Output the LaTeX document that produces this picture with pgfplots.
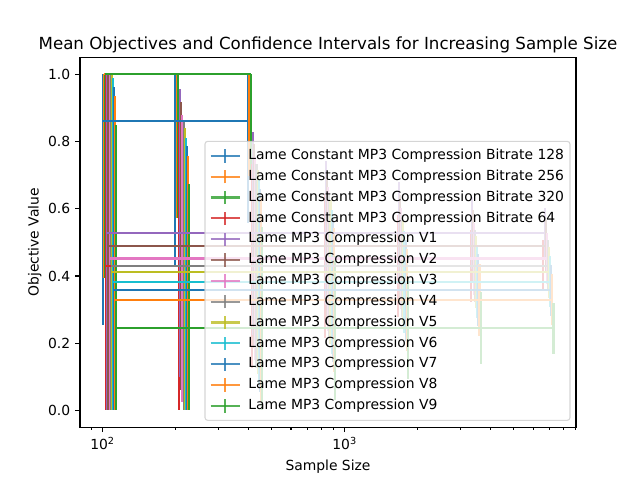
\documentclass[border=0pt]{standalone}
\usepackage{pgfplots}
\pgfplotsset{compat=1.18}
\usepackage{pgfplotstable}
\usepackage{fontspec}
\setmainfont{DejaVu Sans}
\definecolor{C0}{HTML}{1F77B4}
\definecolor{C1}{HTML}{FF7F0E}
\definecolor{C2}{HTML}{2CA02C}
\definecolor{C3}{HTML}{D62728}
\definecolor{C4}{HTML}{9467BD}
\definecolor{C5}{HTML}{8C564B}
\definecolor{C6}{HTML}{E377C2}
\definecolor{C7}{HTML}{7F7F7F}
\definecolor{C8}{HTML}{BCBD22}
\definecolor{C9}{HTML}{17BECF}

\pgfplotstableread{
x y ep em
100 0.86 0.14 0.606
200 0.86 0.14 0.4285
400 0.86 0.14 0.303
}\sA
\pgfplotstableread{
x y ep em
101.15 1.0 0 0.606
202.3 1.0 0 0.4285
404.6 1.0 0 0.303
}\sB
\pgfplotstableread{
x y ep em
102.3 1.0 0 0.606
204.6 1.0 0 0.4285
409.2 1.0 0 0.303
}\sC
\pgfplotstableread{
x y ep em
103.45 0.43 0.57 0.43
206.9 0.43 0.4285 0.4285
413.8 0.43 0.303 0.303
827.6 0.43 0.2143 0.2143
1655.2 0.43 0.1515 0.1515
3310.4 0.43 0.1071 0.1071
6620.8 0.43 0.0758 0.0758
}\sD
\pgfplotstableread{
x y ep em
104.6 0.527 0.473 0.527
209.2 0.527 0.4285 0.4285
418.4 0.527 0.303 0.303
836.8 0.527 0.2143 0.2143
1673.6 0.527 0.1515 0.1515
3347.2 0.527 0.1071 0.1071
6694.4 0.527 0.0758 0.0758
}\sE
\pgfplotstableread{
x y ep em
105.75 0.49 0.51 0.49
211.5 0.49 0.4285 0.4285
423 0.49 0.303 0.303
846 0.49 0.2143 0.2143
1692 0.49 0.1515 0.1515
3384 0.49 0.1071 0.1071
6768 0.49 0.0758 0.0758
}\sF
\pgfplotstableread{
x y ep em
106.9 0.452 0.548 0.452
213.8 0.452 0.4285 0.4285
427.6 0.452 0.303 0.303
855.2 0.452 0.2143 0.2143
1710.4 0.452 0.1515 0.1515
3420.8 0.452 0.1071 0.1071
6841.6 0.452 0.0758 0.0758
}\sG
\pgfplotstableread{
x y ep em
108.05 0.43 0.57 0.43
216.1 0.43 0.4285 0.4285
432.2 0.43 0.303 0.303
864.4 0.43 0.2143 0.2143
1728.8 0.43 0.1515 0.1515
3457.6 0.43 0.1071 0.1071
6915.2 0.43 0.0758 0.0758
}\sH
\pgfplotstableread{
x y ep em
109.2 0.411 0.589 0.411
218.4 0.411 0.4285 0.411
436.8 0.411 0.303 0.303
873.6 0.411 0.2143 0.2143
1747.2 0.411 0.1515 0.1515
3494.4 0.411 0.1071 0.1071
6988.8 0.411 0.0758 0.0758
}\sI
\pgfplotstableread{
x y ep em
110.35 0.383 0.606 0.383
220.7 0.383 0.4285 0.383
441.4 0.383 0.303 0.303
882.8 0.383 0.2143 0.2143
1765.6 0.383 0.1515 0.1515
3531.2 0.383 0.1071 0.1071
7062.4 0.383 0.0758 0.0758
}\sJ
\pgfplotstableread{
x y ep em
111.5 0.357 0.606 0.357
223 0.357 0.4285 0.357
446 0.357 0.303 0.303
892 0.357 0.2143 0.2143
1784 0.357 0.1515 0.1515
3568 0.357 0.1071 0.1071
7136 0.357 0.0758 0.0758
}\sK
\pgfplotstableread{
x y ep em
112.65 0.329 0.606 0.329
225.3 0.329 0.4285 0.329
450.6 0.329 0.303 0.303
901.2 0.329 0.2143 0.2143
1802.4 0.329 0.1515 0.1515
3604.8 0.329 0.1071 0.1071
7209.6 0.329 0.0758 0.0758
}\sL
\pgfplotstableread{
x y ep em
113.8 0.244 0.606 0.244
227.6 0.244 0.4285 0.244
455.2 0.244 0.303 0.244
910.4 0.244 0.2143 0.2143
1820.8 0.244 0.1515 0.1515
3641.6 0.244 0.1071 0.1071
7283.2 0.244 0.0758 0.0758
}\sM

\newcommand{\ebar}[2]{\addplot[draw=none, mark=none, forget plot,
  error bars/.cd, y dir=both, y explicit, error mark=none,
  error bar style={draw=#1, line width=1.5pt, solid}]
  table[x=x,y=y,y error plus=ep,y error minus=em] {#2};}
\newcommand{\lplot}[3]{\addplot[#1, line width=1.5pt, mark=none]
  table[x=x,y=y] {#2}; \addlegendentry{#3}}

\begin{document}
\begin{tikzpicture}
\useasboundingbox (-57.6pt,-38.02pt) rectangle (403.2pt,307.58pt);
\begin{axis}[
  at={(0pt,0pt)}, anchor=south west,
  scale only axis, width=357.12pt, height=266.11pt,
  xmode=log, log basis x=10,
  xmin=80.7, xmax=9024, ymin=-0.05, ymax=1.05,
  xtick={100,1000}, xticklabels={10\textsuperscript{2},10\textsuperscript{3}},
  minor xtick={90,200,300,400,500,600,700,800,900,2000,3000,4000,5000,6000,7000,8000,9000},
  ytick={0,0.2,0.4,0.6,0.8,1.0},
  yticklabels={0.0,0.2,0.4,0.6,0.8,1.0},
  tick align=outside, xtick pos=bottom, ytick pos=left,
  major tick length=3.5pt, minor tick length=2pt,
  every tick/.style={black, line width=0.8pt},
  axis line style={line width=0.8pt},
  tick label style={font=\fontsize{10}{12}\selectfont},
  label style={font=\fontsize{10}{12}\selectfont},
  xlabel={Sample Size}, ylabel={Objective Value},
  xlabel style={yshift=-1pt},
  ylabel style={yshift=-2pt},
  title={Mean Objectives and Confidence Intervals for Increasing Sample Size},
  title style={font=\fontsize{12}{14}\selectfont, yshift=-6pt},
  legend cell align=left,
  legend image code/.code={
    \draw[#1, line width=1.5pt] (0pt,0pt) -- (20.9pt,0pt);
    \draw[#1, line width=1.5pt] (10.45pt,-4.8pt) -- (10.45pt,4.8pt);},
  legend style={at={(0.989,0.017)}, anchor=south east,
    fill=white, fill opacity=0.8, draw opacity=0.8, text opacity=1,
    draw=black!20, line width=0.8pt, rounded corners=2pt,
    font=\fontsize{10}{12}\selectfont,
    nodes={inner sep=1pt, text height=7.3pt, text depth=2pt},
    column sep=4.5pt,
    row sep=3.7pt, inner xsep=3.3pt, inner ysep=4.8pt},
]
\ebar{C0}{\sA}
\ebar{C1}{\sB}
\ebar{C2}{\sC}
\ebar{C3}{\sD}
\ebar{C4}{\sE}
\ebar{C5}{\sF}
\ebar{C6}{\sG}
\ebar{C7}{\sH}
\ebar{C8}{\sI}
\ebar{C9}{\sJ}
\ebar{C0}{\sK}
\ebar{C1}{\sL}
\ebar{C2}{\sM}
\lplot{C0}{\sA}{Lame Constant MP3 Compression Bitrate 128}
\lplot{C1}{\sB}{Lame Constant MP3 Compression Bitrate 256}
\lplot{C2}{\sC}{Lame Constant MP3 Compression Bitrate 320}
\lplot{C3}{\sD}{Lame Constant MP3 Compression Bitrate 64}
\lplot{C4}{\sE}{Lame MP3 Compression V1}
\lplot{C5}{\sF}{Lame MP3 Compression V2}
\lplot{C6}{\sG}{Lame MP3 Compression V3}
\lplot{C7}{\sH}{Lame MP3 Compression V4}
\lplot{C8}{\sI}{Lame MP3 Compression V5}
\lplot{C9}{\sJ}{Lame MP3 Compression V6}
\lplot{C0}{\sK}{Lame MP3 Compression V7}
\lplot{C1}{\sL}{Lame MP3 Compression V8}
\lplot{C2}{\sM}{Lame MP3 Compression V9}
\end{axis}
\end{tikzpicture}
\end{document}
